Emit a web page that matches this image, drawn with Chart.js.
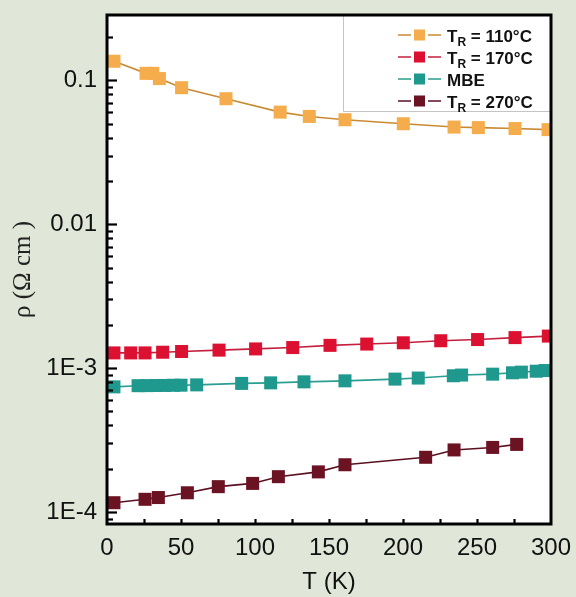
<!DOCTYPE html>
<html><head><meta charset="utf-8">
<script src="https://cdn.jsdelivr.net/npm/chart.js@4.4.0/dist/chart.umd.min.js"></script>
<style>html,body{margin:0;padding:0;background:#E1E7D8;}canvas{display:block}</style>
</head><body><canvas id="c" width="576" height="597"></canvas>
<script>
const seriesNames = ['T_R = 110°C', 'T_R = 170°C', 'MBE', 'T_R = 270°C'];
const t110 = [4.7, 26.4, 30.9, 35.4, 50.4, 80.4, 117, 136.7, 160.8, 200.2, 234.5, 250.9, 275.7, 298];
const r110 = [0.136, 0.112, 0.112, 0.103, 0.089, 0.0746, 0.0602, 0.0562, 0.0533, 0.050, 0.0474, 0.0470, 0.0463, 0.0455];
const t170 = [4.7, 16.0, 25.7, 37.6, 50.4, 75.7, 100.4, 125.5, 150.7, 175.5, 200.2, 225.5, 250.4, 275.7, 298.2];
const r170 = [1.276e-3, 1.276e-3, 1.276e-3, 1.29e-3, 1.305e-3, 1.334e-3, 1.36e-3, 1.39e-3, 1.44e-3, 1.47e-3, 1.5e-3, 1.55e-3, 1.58e-3, 1.63e-3, 1.67e-3];
const tMBE = [4.7, 21, 27, 33, 39, 45, 50, 60.6, 91, 110.6, 133.1, 160.8, 194.6, 210.3, 234, 239.6, 260.6, 274, 280, 290, 296];
const rMBE = [7.41e-4, 7.55e-4, 7.56e-4, 7.57e-4, 7.58e-4, 7.6e-4, 7.61e-4, 7.65e-4, 7.83e-4, 7.9e-4, 8.03e-4, 8.16e-4, 8.39e-4, 8.53e-4, 8.85e-4, 8.95e-4, 9.08e-4, 9.28e-4, 9.38e-4, 9.52e-4, 9.62e-4];
const t270 = [4.7, 25.7, 34.7, 54.3, 75.2, 98.4, 115.8, 142.8, 160.8, 215.3, 234.5, 260.6, 276.8];
const r270 = [1.16e-4, 1.225e-4, 1.26e-4, 1.36e-4, 1.50e-4, 1.58e-4, 1.76e-4, 1.90e-4, 2.13e-4, 2.40e-4, 2.70e-4, 2.81e-4, 2.95e-4];
const xTickValues = [0, 50, 100, 150, 200, 250, 300];
const yTickValues = [1e-4, 1e-3, 1e-2, 1e-1];
const yTickLabels = ['1E-4', '1E-3', '0.01', '0.1'];

const pointFill = ['#F5AC4C', '#DC1030', '#1F988E', '#6B1323'];
const lineCol = ['#C98A33', '#C4203E', '#2A9E90', '#5A1020'];

function mk(i, xs, ys) {
  return {
    label: seriesNames[i],
    data: xs.map((x, k) => ({x: x, y: ys[k]})),
    borderColor: lineCol[i],
    borderWidth: 1.6,
    pointStyle: 'rect',
    pointRadius: 9.2,
    pointBackgroundColor: pointFill[i],
    pointBorderColor: pointFill[i],
    pointBorderWidth: 0,
    tension: 0
  };
}

const deco = {
  id: 'deco',
  beforeDraw(chart) {
    const {ctx, chartArea: a} = chart;
    ctx.save();
    ctx.fillStyle = '#ffffff';
    ctx.fillRect(a.left, a.top, a.right - a.left, a.bottom - a.top);
    ctx.restore();
  },
  afterDatasetsDraw(chart) {
    const {ctx, chartArea: a} = chart;
    const ya = chart.scales.y, xa = chart.scales.x;
    ctx.save();
    const lx = 343, lb = 111;
    ctx.fillStyle = '#ffffff';
    ctx.fillRect(lx, a.top, a.right - lx, lb - a.top);
    ctx.strokeStyle = '#c4c4c4';
    ctx.lineWidth = 1;
    ctx.beginPath();
    ctx.moveTo(lx + 0.5, a.top); ctx.lineTo(lx + 0.5, lb + 0.5); ctx.lineTo(a.right, lb + 0.5);
    ctx.stroke();
    chart.data.datasets.forEach((ds, i) => {
      const cy = 35 + 22 * i;
      ctx.strokeStyle = lineCol[i];
      ctx.lineWidth = 1.6;
      ctx.beginPath(); ctx.moveTo(398, cy); ctx.lineTo(411, cy); ctx.moveTo(428, cy); ctx.lineTo(441, cy); ctx.stroke();
      ctx.fillStyle = pointFill[i];
      ctx.fillRect(414, cy - 5.5, 11, 11);
      ctx.fillStyle = '#111';
      ctx.textBaseline = 'alphabetic';
      ctx.textAlign = 'left';
      const name = ds.label;
      let x = 447;
      const base = cy + 6.5;
      if (name.indexOf('_') >= 0) {
        const main = name.slice(0, name.indexOf('_'));
        const sub = name.charAt(name.indexOf('_') + 1);
        const rest = name.slice(name.indexOf('_') + 2);
        ctx.font = 'bold 17px "Liberation Sans", Arial, sans-serif';
        ctx.fillText(main, x, base); x += ctx.measureText(main).width;
        ctx.font = 'bold 12px "Liberation Sans", Arial, sans-serif';
        ctx.fillText(sub, x, base + 4); x += ctx.measureText(sub).width;
        ctx.font = 'bold 17px "Liberation Sans", Arial, sans-serif';
        ctx.fillText(rest, x, base);
      } else {
        ctx.font = 'bold 17px "Liberation Sans", Arial, sans-serif';
        ctx.fillText(name, x, base);
      }
    });
    ctx.strokeStyle = '#000';
    ctx.lineWidth = 2.2;
    for (let d = -5; d <= 0; d++) {
      for (let m = 1; m <= 9; m++) {
        const v = m * Math.pow(10, d);
        if (v < ya.min || v > ya.max) continue;
        const y = Math.round(ya.getPixelForValue(v)) + 0.5;
        const len = m === 1 ? 10 : 6;
        ctx.beginPath(); ctx.moveTo(a.left, y); ctx.lineTo(a.left + len, y); ctx.stroke();
      }
    }
    for (let v = 25; v < 300; v += 25) {
      const x = Math.round(xa.getPixelForValue(v)) + 0.5;
      ctx.beginPath(); ctx.moveTo(x, a.bottom); ctx.lineTo(x, a.bottom - 5); ctx.stroke();
    }
    ctx.lineWidth = 3;
    ctx.strokeRect(a.left, a.top, a.right - a.left, a.bottom - a.top);
    ctx.restore();
  }
};

new Chart(document.getElementById('c'), {
  type: 'line',
  data: {
    datasets: [mk(0, t110, r110), mk(1, t170, r170), mk(2, tMBE, rMBE), mk(3, t270, r270)]
  },
  options: {
    responsive: false,
    animation: false,
    devicePixelRatio: 1,
    layout: {padding: {left: 0, right: 25, top: 15, bottom: 0}},
    plugins: {legend: {display: false}, tooltip: {enabled: false}},
    scales: {
      x: {
        type: 'linear', min: 0, max: 300,
        grid: {display: false, drawTicks: false}, border: {display: false},
        afterBuildTicks: s => { s.ticks = xTickValues.map(v => ({value: v})); },
        ticks: {padding: 10, color: '#111', font: {family: '"Liberation Sans", Arial, sans-serif', size: 24}, maxRotation: 0, autoSkip: false},
        title: {display: true, text: 'T (K)', color: '#111', font: {family: '"Liberation Sans", Arial, sans-serif', size: 24}, padding: {top: 0, bottom: 0}},
        afterFit: s => { s.height = 73; s.paddingLeft = 0; s.paddingRight = 0; }
      },
      y: {
        type: 'logarithmic', min: 8.25e-5, max: 0.285,
        grid: {display: false, drawTicks: false}, border: {display: false},
        afterBuildTicks: s => { s.ticks = yTickValues.map(v => ({value: v})); },
        ticks: {padding: 10, color: '#111', autoSkip: false, font: {family: '"Liberation Sans", Arial, sans-serif', size: 24},
          callback: (v, i) => yTickLabels[i]},
        title: {display: true, text: 'ρ (Ω cm )', color: '#222', font: {family: '"Liberation Serif", "Times New Roman", serif', size: 25}, padding: {top: 8, bottom: 0}},
        afterFit: s => { s.width = 107; s.paddingTop = 0; s.paddingBottom = 0; }
      }
    }
  },
  plugins: [deco]
});
</script></body></html>
